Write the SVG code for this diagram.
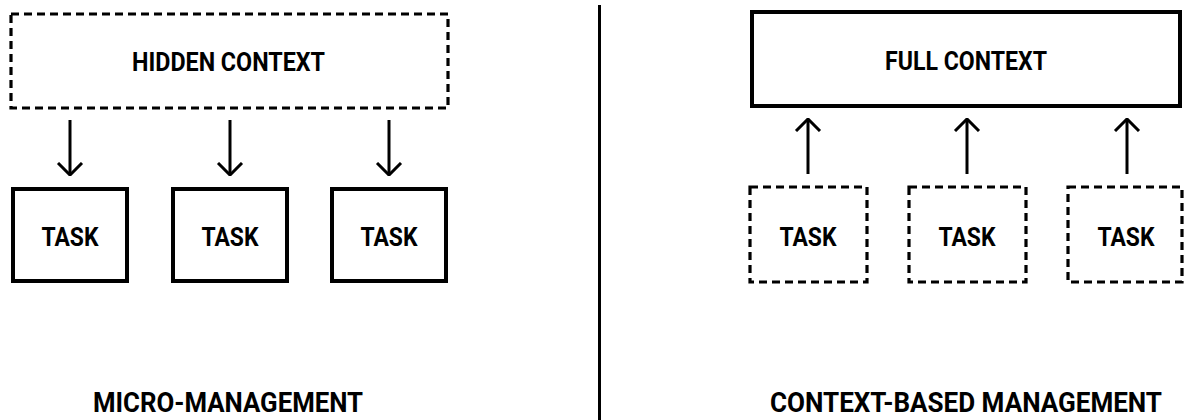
<svg xmlns="http://www.w3.org/2000/svg" width="1184" height="420" viewBox="0 0 1184 420">
  <defs>
    <style>
      .bg { fill: #ffffff; }
      .solid { fill: #ffffff; stroke: #000000; stroke-width: 4; }
      .dashed { fill: #ffffff; stroke: #000000; stroke-width: 3.2; stroke-dasharray: 8 5; }
      .conn { fill: none; stroke: #000000; stroke-width: 3; }
      .lbl { font-family: Roboto, "Liberation Sans", sans-serif; font-weight: 700; fill: #000000; text-anchor: middle; }
      .box-lbl { font-size: 25px; }
      .task-lbl { font-size: 26px; }
      .title { font-size: 27px; }
    </style>
    <marker id="arrow" viewBox="0 0 14 28" refX="13" refY="14" markerWidth="14" markerHeight="28" markerUnits="userSpaceOnUse" orient="auto">
      <path d="M1,2 L13,14 L1,26" fill="none" stroke="#000000" stroke-width="3"/>
    </marker>
  </defs>

  <rect class="bg" x="0" y="0" width="1184" height="420"/>

  <!-- divider between the two panels -->
  <line x1="599.5" y1="5" x2="599.5" y2="420" stroke="#000000" stroke-width="3"/>

  <!-- left panel -->
  <g id="hidden-context">
    <rect class="dashed" x="11" y="14" width="437" height="94"/>
    <text class="lbl box-lbl" x="228.5" y="71" textLength="193" lengthAdjust="spacingAndGlyphs">HIDDEN CONTEXT</text>
  </g>
  <g id="task-l1">
    <rect class="solid" x="13" y="189" width="114" height="92"/>
    <text class="lbl task-lbl" x="70" y="246" textLength="57" lengthAdjust="spacingAndGlyphs">TASK</text>
  </g>
  <g id="task-l2">
    <rect class="solid" x="173" y="189" width="114" height="92"/>
    <text class="lbl task-lbl" x="230" y="246" textLength="57" lengthAdjust="spacingAndGlyphs">TASK</text>
  </g>
  <g id="task-l3">
    <rect class="solid" x="332" y="189" width="114" height="92"/>
    <text class="lbl task-lbl" x="389" y="246" textLength="57" lengthAdjust="spacingAndGlyphs">TASK</text>
  </g>
  <g id="title-left">
    <text class="lbl title" x="228" y="412" textLength="270" lengthAdjust="spacingAndGlyphs">MICRO-MANAGEMENT</text>
  </g>

  <!-- right panel -->
  <g id="full-context">
    <rect class="solid" x="752" y="12" width="428" height="94"/>
    <text class="lbl box-lbl" x="966" y="70" textLength="162" lengthAdjust="spacingAndGlyphs">FULL CONTEXT</text>
  </g>
  <g id="task-r1">
    <rect class="dashed" x="750" y="187" width="117" height="95"/>
    <text class="lbl task-lbl" x="808" y="246" textLength="57" lengthAdjust="spacingAndGlyphs">TASK</text>
  </g>
  <g id="task-r2">
    <rect class="dashed" x="909" y="187" width="117" height="95"/>
    <text class="lbl task-lbl" x="967" y="246" textLength="57" lengthAdjust="spacingAndGlyphs">TASK</text>
  </g>
  <g id="task-r3">
    <rect class="dashed" x="1068" y="187" width="114" height="95"/>
    <text class="lbl task-lbl" x="1126" y="246" textLength="57" lengthAdjust="spacingAndGlyphs">TASK</text>
  </g>
  <g id="title-right">
    <text class="lbl title" x="966" y="412" textLength="392" lengthAdjust="spacingAndGlyphs">CONTEXT-BASED MANAGEMENT</text>
  </g>

  <!-- connectors -->
  <g id="connectors">
    <line class="conn" x1="70" y1="120" x2="70" y2="175" marker-end="url(#arrow)"/>
    <line class="conn" x1="230" y1="120" x2="230" y2="175" marker-end="url(#arrow)"/>
    <line class="conn" x1="389" y1="120" x2="389" y2="175" marker-end="url(#arrow)"/>
    <line class="conn" x1="808" y1="174" x2="808" y2="119" marker-end="url(#arrow)"/>
    <line class="conn" x1="967" y1="174" x2="967" y2="119" marker-end="url(#arrow)"/>
    <line class="conn" x1="1127" y1="174" x2="1127" y2="119" marker-end="url(#arrow)"/>
  </g>
</svg>
